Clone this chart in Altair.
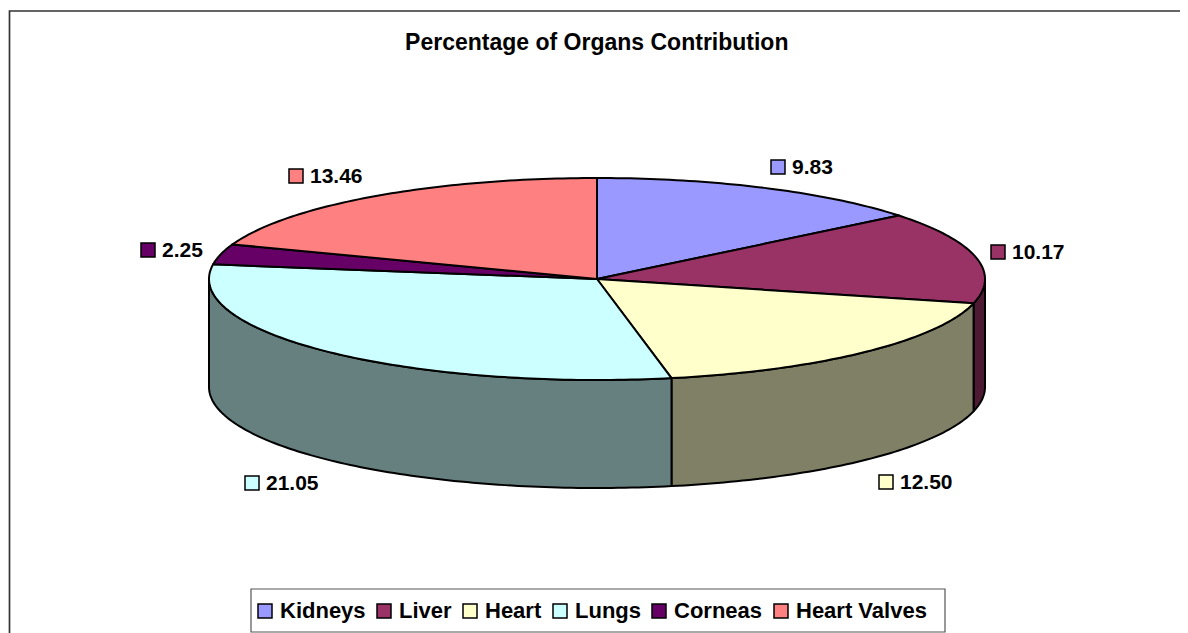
import math
import altair as alt
import pandas as pd

# ---- chart values ----
categories = ["Kidneys", "Liver", "Heart", "Lungs", "Corneas", "Heart Valves"]
values = [9.83, 10.17, 12.50, 21.05, 2.25, 13.46]
value_labels = ["9.83", "10.17", "12.50", "21.05", "2.25", "13.46"]
title_text = "Percentage of Organs Contribution"

# ---- styles / layout ----
face_colors = ["#9999FF", "#993366", "#FFFFCC", "#CCFFFF", "#660066", "#FF8080"]
side_colors = ["#4D1A33", "#4D1A33", "#808066", "#668080", "#330033", "#804040"]
W, H = 1172, 625
CX, CY, RX, RY, DEPTH = 597, 279, 388, 101, 108
key_x = [778, 998, 886, 252, 148, 296]
key_y = [167, 252, 482, 483, 250, 176]
FONT = "Liberation Sans"

x_scale = alt.Scale(domain=[8, 8 + W], range=[0, W], nice=False, zero=False)
y_scale = alt.Scale(domain=[8, 8 + H], range=[0, H], nice=False, zero=False)
X = alt.X("x:Q", scale=x_scale, axis=None)
Y = alt.Y("y:Q", scale=y_scale, axis=None)


def pt(deg, dy=0):
    r = math.radians(deg)
    return CX + RX * math.sin(r), CY - RY * math.cos(r) + dy


def arc(a, b, dy=0):
    n = max(2, int(abs(b - a)) + 1)
    return [pt(a + (b - a) * i / n, dy) for i in range(n + 1)]


def poly(points, fill, width=2):
    df = pd.DataFrame(points, columns=["x", "y"])
    df["i"] = range(len(df))
    return (
        alt.Chart(df)
        .mark_line(fill=fill, stroke="black", strokeWidth=width, strokeJoin="round", clip=False)
        .encode(x=X, y=Y, order="i:Q")
    )


total = sum(values)
edges = [0.0]
for v in values:
    edges.append(edges[-1] + v / total * 360)

layers = []
# visible outer walls: only the part of each slice in the front half (90..270 deg)
for k in range(len(values)):
    a, b = max(edges[k], 90), min(edges[k + 1], 270)
    if b > a:
        top = arc(a, b)
        bottom = arc(b, a, DEPTH)
        layers.append(poly(top + bottom + top[:1], side_colors[k]))
# top faces
for k in range(len(values)):
    layers.append(poly([(CX, CY)] + arc(edges[k], edges[k + 1]) + [(CX, CY)], face_colors[k]))

# frame: only the left and top edges fall inside the window
frame = pd.DataFrame({"x": [9.5, 9.5, 8 + W + 5], "y": [8 + H + 5, 11, 11], "i": [0, 1, 2]})
frame_layer = (
    alt.Chart(frame)
    .mark_line(stroke="#333333", strokeWidth=1.7)
    .encode(x=X, y=Y, order="i:Q")
)

# legend box behind the legend entries
box = pd.DataFrame({"x": [251], "x2": [945], "y": [589], "y2": [632]})
box_layer = (
    alt.Chart(box)
    .mark_rect(fill="white", stroke="#555555", strokeWidth=1.2)
    .encode(x=X, x2="x2:Q", y=Y, y2="y2:Q")
)

labels = pd.DataFrame(
    {"cat": categories, "label": value_labels, "x": key_x, "y": key_y}
)
color_scale = alt.Scale(domain=categories, range=face_colors)
keys = (
    alt.Chart(labels)
    .mark_point(shape="square", filled=True, size=196, stroke="black", strokeWidth=1.5, opacity=1)
    .encode(
        x=X,
        y=Y,
        fill=alt.Fill(
            "cat:N",
            scale=color_scale,
            sort=categories,
            legend=alt.Legend(
                title=None,
                orient="none",
                legendX=246,
                legendY=592,
                direction="horizontal",
                columns=6,
                columnPadding=7,
                padding=0,
                labelFont=FONT,
                labelFontWeight="bold",
                labelFontSize=22,
                labelColor="black",
                labelOffset=4,
                symbolType="square",
                symbolSize=196,
                symbolStrokeColor="black",
                symbolStrokeWidth=1.5,
                symbolOpacity=1,
            ),
        ),
    )
)
texts = (
    alt.Chart(labels)
    .mark_text(font=FONT, fontWeight="bold", fontSize=21, align="left", baseline="middle", dx=14, dy=1, color="black")
    .encode(x=X, y=Y, text="label:N")
)

chart = (
    alt.layer(frame_layer, box_layer, *layers, keys, texts)
    .properties(
        width=W,
        height=H,
        padding=0,
        autosize=alt.AutoSizeParams(type="none"),
        title=alt.TitleParams(
            title_text, font=FONT, fontWeight="bold", fontSize=23, color="black",
            anchor="start", offset=0, dx=399, dy=65.5, baseline="alphabetic",
        ),
    )
    .configure_view(stroke=None)
)

chart.save("out.html", embed_options={"renderer": "svg", "actions": False})
